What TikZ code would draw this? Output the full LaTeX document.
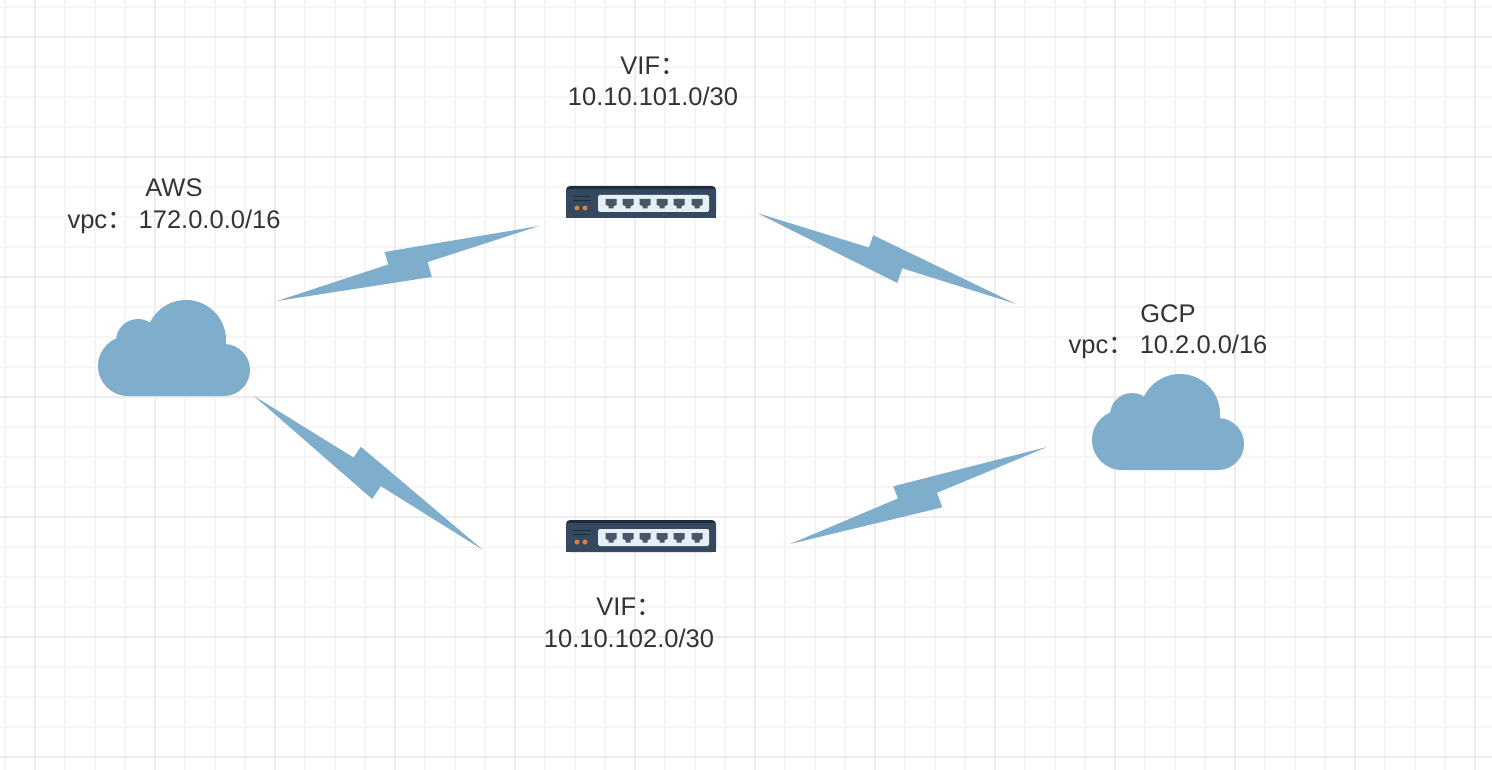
\documentclass[tikz,border=0pt]{standalone}
\usepackage{fontspec}
\setmainfont{Liberation Sans}
\newfontfamily\cjk{Noto Sans CJK SC}
\usetikzlibrary{calc,positioning}
\definecolor{gridmajor}{HTML}{ECECEC}
\definecolor{gridminor}{HTML}{F5F5F5}
\definecolor{cloudblue}{HTML}{7FADCC}
\definecolor{boxdark}{HTML}{1C2E3C}
\definecolor{boxbody}{HTML}{34495E}
\definecolor{boxpanel}{HTML}{E4EFF6}
\definecolor{boxport}{HTML}{4A5568}
\definecolor{boxled}{HTML}{E07B3F}
\newcommand{\wcolon}{{\cjk ：}}
\newcommand{\boltline}[2]{%
  \fill[bolt] (#1)
    -- ($(#1)!117pt!(#2)!4.5pt!90:(#2)$)
    -- ($(#1)!117pt!(#2)!17.5pt!90:(#2)$)
    -- (#2)
    -- ($(#1)!155.5pt!(#2)!4pt!-90:(#2)$)
    -- ($(#1)!155.5pt!(#2)!19.5pt!-90:(#2)$)
    -- cycle;}

\begin{document}
\begin{tikzpicture}[x=1pt,y=-1pt,
    bolt/.style={cloudblue},
    main node/.style={inner sep=0pt,minimum width=152pt,minimum height=32pt},
    cloud node/.style={main node,minimum height=96pt},
    label node/.style={inner sep=0pt,align=center,text=black!80,
                       font=\fontsize{25.5pt}{31.5pt}\selectfont},
    pics/cloudshape/.style={code={
      \fill[cloudblue] (-46,18) circle (30pt) (50,22) circle (26pt)
        (12,-8) circle (40pt) (-36,-7) circle (22pt)
        (-46,-3) rectangle (50,48);
    }},
    pics/switchshape/.style={code={
      \fill[boxdark,rounded corners=4pt] (-75,-16) rectangle (75,16);
      \fill[boxbody] (-75,-13) rectangle (75,16);
      \fill[boxpanel,rounded corners=1.5pt] (-43,-7) rectangle (68,10);
      \foreach \x in {-30,-13,4,21,38,56}
        \fill[boxport,shift={(\x,0)}] (-5.5,-3) -- (5.5,-3) -- (5.5,3) -- (2.5,4)
          -- (2.5,6.5) -- (-2.5,6.5) -- (-2.5,4) -- (-5.5,3) -- cycle;
      \fill[boxled] (-64,6) circle (2.5pt) (-56,6) circle (2.5pt);
      \draw[boxdark,line width=.8pt] (-68,-5.5) -- (-51,-5.5) (-68,-2) -- (-51,-2);
    }}]

  \useasboundingbox (0,0) rectangle (1492,770);

  % grid
  \foreach \x in {5,35,...,1475}
    \draw[gridminor,line width=2.2pt] (\x,0) -- (\x,770);
  \foreach \y in {7,37,...,757}
    \draw[gridminor,line width=2.2pt] (0,\y) -- (1492,\y);
  \foreach \x in {35,155,...,1475}
    \draw[gridmajor,line width=2.6pt] (\x,0) -- (\x,770);
  \foreach \y in {37,157,...,757}
    \draw[gridmajor,line width=2.6pt] (0,\y) -- (1492,\y);

  \node[cloud node] (aws) at (174,348) {};
  \node[cloud node] (gcp) at (1168,422) {};
  \node[main node] (vif1) at (641,202) {};
  \node[main node] (vif2) at (641,536) {};

  \pic at (aws) {cloudshape};
  \pic at (gcp) {cloudshape};
  \pic at (vif1) {switchshape};
  \pic at (vif2) {switchshape};

  \node[label node] (awslabel) [above=66pt of aws] {AWS\\vpc\wcolon\hspace{6pt}172.0.0.0/16};
  \node[label node] (gcplabel) [above=14.5pt of gcp] {GCP\\vpc\wcolon\hspace{6pt}10.2.0.0/16};
  \node[label node] (vif1label) [above=79.5pt of vif1,xshift=12pt] {VIF\wcolon\\10.10.101.0/30};
  \node[label node] (vif2label) [below=46pt of vif2,xshift=-12pt] {VIF\wcolon\\10.10.102.0/30};

  \coordinate (aws-up) at (277,301);
  \coordinate (aws-down) at (254,396);
  \coordinate (vif1-left) at (539,226);
  \coordinate (vif1-right) at (757,213);
  \coordinate (vif2-left) at (483,550);
  \coordinate (vif2-right) at (790,544);
  \coordinate (gcp-up) at (1016,304);
  \coordinate (gcp-down) at (1047,447);

  \boltline{aws-up}{vif1-left}
  \boltline{aws-down}{vif2-left}
  \boltline{vif1-right}{gcp-up}
  \boltline{vif2-right}{gcp-down}
\end{tikzpicture}
\end{document}
